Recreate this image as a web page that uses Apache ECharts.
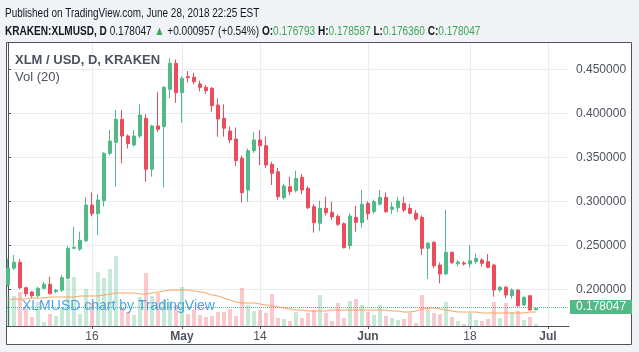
<!DOCTYPE html>
<html>
<head>
<meta charset="utf-8">
<script src="https://cdn.jsdelivr.net/npm/echarts@6/dist/echarts.min.js"></script>
<style>
html, body { margin: 0; padding: 0; background: #f1f3f6; }
#main { width: 639px; height: 352px; }
</style>
</head>
<body>
<div id="main"></div>
<script>
// daily candles, day 0 = 2018-04-02 ... day 88 = 2018-06-29
var opens = [0.2050, 0.2240, 0.2307, 0.2018, 0.1970, 0.1927, 0.2011, 0.2057, 0.1975, 0.1990,
	0.2125, 0.2466, 0.2458, 0.2552, 0.2958, 0.2859, 0.3007, 0.3545, 0.3670, 0.3932,
	0.3742, 0.3640, 0.3742, 0.3943, 0.3364, 0.3856, 0.3848, 0.4273, 0.4568, 0.4234,
	0.4416, 0.4410, 0.4333, 0.4295, 0.4284, 0.4094, 0.3943, 0.3799, 0.3708, 0.3489,
	0.3128, 0.3575, 0.3697, 0.3632, 0.3420, 0.3336, 0.3041, 0.3166, 0.3120, 0.3273,
	0.3148, 0.2939, 0.2750, 0.2920, 0.2875, 0.2830, 0.2745, 0.2496, 0.2818, 0.2757,
	0.2977, 0.2882, 0.2969, 0.3045, 0.2909, 0.2927, 0.2977, 0.2920, 0.2864, 0.2818,
	0.2466, 0.2534, 0.2276, 0.2174, 0.2420, 0.2290, 0.2300, 0.2288, 0.2314, 0.2333,
	0.2314, 0.2276, 0.1992, 0.2023, 0.1927, 0.1992, 0.1822, 0.1927, 0.176793];
var closes = [0.2240, 0.2307, 0.2018, 0.1950, 0.1927, 0.2011, 0.2057, 0.1950, 0.1990, 0.2132,
	0.2466, 0.2477, 0.2557, 0.2958, 0.2859, 0.3015, 0.3545, 0.3685, 0.3932, 0.3742,
	0.3655, 0.3742, 0.3981, 0.3364, 0.3856, 0.3818, 0.4295, 0.4568, 0.4234, 0.4398,
	0.4405, 0.4360, 0.4295, 0.4257, 0.4086, 0.3935, 0.3830, 0.3697, 0.3461, 0.3098,
	0.3575, 0.3697, 0.3632, 0.3412, 0.3318, 0.3052, 0.3174, 0.3109, 0.3261, 0.3128,
	0.2927, 0.2757, 0.2920, 0.2870, 0.2822, 0.2739, 0.2473, 0.2833, 0.2761, 0.2966,
	0.2859, 0.2995, 0.3045, 0.2882, 0.2935, 0.3003, 0.2901, 0.2864, 0.2799, 0.2466,
	0.2523, 0.2268, 0.2174, 0.2420, 0.2302, 0.2310, 0.2288, 0.2325, 0.2352, 0.2295,
	0.2250, 0.1992, 0.2023, 0.1935, 0.1992, 0.1814, 0.1909, 0.1765, 0.178047];
var lows = [0.2030, 0.2220, 0.2000, 0.1916, 0.1905, 0.1910, 0.2000, 0.1940, 0.1955, 0.1970,
	0.2110, 0.2455, 0.2437, 0.2540, 0.2830, 0.2617, 0.2939, 0.3520, 0.3166, 0.3432,
	0.3600, 0.3620, 0.3720, 0.3223, 0.3280, 0.3790, 0.3159, 0.4170, 0.4120, 0.3893,
	0.4350, 0.4330, 0.4250, 0.4220, 0.4018, 0.3734, 0.3734, 0.3660, 0.3400, 0.2989,
	0.2995, 0.3550, 0.3412, 0.3380, 0.3185, 0.3020, 0.3020, 0.3070, 0.3100, 0.3080,
	0.2910, 0.2643, 0.2663, 0.2840, 0.2790, 0.2720, 0.2465, 0.2455, 0.2655, 0.2700,
	0.2790, 0.2860, 0.2950, 0.2870, 0.2856, 0.2875, 0.2880, 0.2850, 0.2780, 0.2390,
	0.2117, 0.2240, 0.2068, 0.2160, 0.2290, 0.2260, 0.2270, 0.2250, 0.2290, 0.2260,
	0.2240, 0.1916, 0.1970, 0.1900, 0.1893, 0.1800, 0.1810, 0.1760, 0.176360];
var highs = [0.2350, 0.2390, 0.2344, 0.2030, 0.1980, 0.2028, 0.2086, 0.2143, 0.2005, 0.2163,
	0.2490, 0.2711, 0.2655, 0.3045, 0.3100, 0.3083, 0.3560, 0.3810, 0.4037, 0.4037,
	0.3760, 0.3810, 0.4102, 0.3990, 0.3870, 0.4245, 0.4310, 0.4625, 0.4610, 0.4420,
	0.4480, 0.4460, 0.4370, 0.4320, 0.4300, 0.4170, 0.4102, 0.3848, 0.3840, 0.3520,
	0.3600, 0.3784, 0.3810, 0.3734, 0.3450, 0.3380, 0.3200, 0.3280, 0.3348, 0.3310,
	0.3170, 0.2970, 0.3007, 0.3052, 0.2995, 0.2850, 0.2760, 0.2864, 0.2950, 0.3128,
	0.3000, 0.3020, 0.3128, 0.3100, 0.2990, 0.3052, 0.3052, 0.2970, 0.2900, 0.2840,
	0.2540, 0.2550, 0.2306, 0.2901, 0.2430, 0.2335, 0.2320, 0.2503, 0.2408, 0.2350,
	0.2401, 0.2290, 0.2040, 0.2040, 0.2010, 0.2000, 0.1920, 0.1930, 0.178587];
// volume (millions XLM) and its 20-day average
var volumes = [31, 30, 34, 18, 9, 24, 4, 12, 10, 18,
	46, 49, 12, 37, 23, 54, 48, 57, 70, 18,
	14, 11, 29, 53, 30, 33, 26, 25, 21, 39,
	12, 16, 11, 9, 10, 14, 14, 17, 10, 38,
	21, 15, 16, 13, 32, 8, 7, 5, 14, 8,
	13, 16, 31, 13, 5, 23, 8, 25, 27, 21,
	14, 11, 21, 10, 8, 6, 7, 13, 3, 31,
	18, 13, 12, 24, 9, 5, 2, 13, 6, 5,
	7, 24, 8, 23, 14, 15, 6, 9, 2];
var volumeMA = [26, 27, 27, 27, 28, 28, 28, 29, 29, 29,
	29, 29, 30, 30, 30, 30, 31, 32, 33, 33,
	33, 33, 32, 32, 33, 34, 35, 36, 36, 36,
	36, 35, 34, 33, 31, 30, 28, 26, 24, 23,
	23, 23, 22, 21, 20, 19, 18, 17, 16, 16,
	15, 15, 15, 15, 16, 16, 16, 16, 16, 16,
	16, 16, 16, 16, 15, 15, 14, 14, 15, 17,
	18, 18, 17, 16, 15, 14, 14, 14, 14, 13,
	13, 13, 13, 13, 13, 13, 13, 14, 14];
var lastPrice = 0.178047;
var tickDays = [14, 29, 42, 60, 77, 90];
var tickNames = ['16', 'May', '14', 'Jun', '18', 'Jul'];
var priceTicks = [0.20, 0.25, 0.30, 0.35, 0.40, 0.45];

var upColor = '#53b987';
var downColor = '#eb4d5c';
var textColor = '#4c525e';
var font = '"Liberation Sans", Arial';

var candleData = [];
var volData = [];
var maData = [];
for (var i = 0; i < opens.length; i++) {
	candleData.push([i, opens[i], closes[i], lows[i], highs[i]]);
	volData.push({
		value : [i, volumes[i]],
		itemStyle : {
			color : closes[i] >= opens[i] ? 'rgba(83,185,135,0.32)' : 'rgba(235,77,92,0.3)'
		}
	});
	maData.push([i, volumeMA[i]]);
}

var chart = echarts.init(document.getElementById('main'));

var option = {
	backgroundColor : '#f1f3f6',
	animation : false,
	title : [ {
		left : 15,
		top : 54,
		padding : 0,
		text : 'XLM / USD, D, KRAKEN',
		textStyle : {
			fontFamily : font,
			fontSize : 13,
			fontWeight : 'bold',
			color : textColor
		}
	}, {
		left : 15,
		top : 71,
		padding : 0,
		text : 'Vol (20)',
		textStyle : {
			fontFamily : font,
			fontSize : 13,
			fontWeight : 'normal',
			color : textColor
		}
	}, {
		left : 22,
		top : 299,
		padding : 0,
		text : 'XLMUSD chart by TradingView',
		z : 10,
		textStyle : {
			fontFamily : font,
			fontSize : 14,
			fontWeight : 'normal',
			color : 'rgba(41,152,222,0.85)'
		}
	} ],
	graphic : [ {
		type : 'rect',
		z : -10,
		shape : { x : 6.5, y : 42.5, width : 625, height : 302 },
		style : { fill : '#ffffff', stroke : '#50535e', lineWidth : 1 }
	}, {
		// header lines, squeezed to match the condensed TradingView font
		type : 'text',
		x : 5,
		y : 7,
		scaleX : 0.765,
		style : {
			text : 'Published on TradingView.com, June 28, 2018 22:25 EST',
			font : '13px ' + font,
			fill : '#131722'
		}
	}, {
		type : 'text',
		x : 5,
		y : 25,
		scaleX : 0.775,
		style : {
			text : '{b|KRAKEN:XLMUSD, D} {n|0.178047} {g|▲} {n|+0.000957 (+0.54%)} {b|O:}{g|0.176793} {b|H:}{g|0.178587} {b|L:}{g|0.176360} {b|C:}{g|0.178047}',
			font : '13px ' + font,
			fill : '#131722',
			rich : {
				b : { fontFamily : font, fontSize : 13, fontWeight : 'bold', fill : '#131722' },
				n : { fontFamily : font, fontSize : 13, fill : '#131722' },
				g : { fontFamily : font, fontSize : 13, fill : '#3aa757' }
			}
		}
	} ],
	grid : [ {
		left : 7,
		top : 43,
		width : 562,
		height : 283
	}, {
		left : 7,
		top : 226,
		width : 562,
		height : 100
	} ],
	xAxis : [ {
		type : 'value',
		gridIndex : 0,
		min : -1 / 6,
		max : 93.5,
		axisLine : {
			show : true,
			onZero : false,
			lineStyle : { color : '#50535e' }
		},
		axisTick : {
			show : true,
			length : 3,
			customValues : tickDays,
			lineStyle : { color : '#50535e' }
		},
		axisLabel : {
			customValues : tickDays,
			margin : 5,
			fontFamily : font,
			fontSize : 12,
			color : textColor,
			formatter : function(v) {
				var name = tickNames[tickDays.indexOf(Math.round(v))];
				return /^[A-Z]/.test(name) ? '{m|' + name + '}' : name;
			},
			rich : {
				m : { fontWeight : 'bold', fontSize : 12, fontFamily : font, color : textColor }
			}
		},
		splitLine : {
			show : true,
			lineStyle : { color : '#e8edf2' }
		}
	}, {
		type : 'value',
		gridIndex : 1,
		min : -1 / 6,
		max : 93.5,
		show : false
	} ],
	yAxis : [ {
		type : 'value',
		gridIndex : 0,
		position : 'right',
		min : 0.1583,
		max : 0.4799,
		axisLine : {
			show : true,
			lineStyle : { color : '#50535e' }
		},
		axisTick : {
			show : true,
			length : 3,
			customValues : priceTicks,
			lineStyle : { color : '#50535e' }
		},
		axisLabel : {
			customValues : priceTicks,
			margin : 7,
			fontFamily : font,
			fontSize : 12,
			color : textColor,
			formatter : function(v) {
				return v.toFixed(6);
			}
		},
		splitLine : {
			show : true,
			lineStyle : { color : '#e8edf2' }
		}
	}, {
		type : 'value',
		gridIndex : 1,
		min : 0,
		max : 100,
		show : false
	} ],
	series : [ {
		name : 'Volume',
		type : 'bar',
		xAxisIndex : 1,
		yAxisIndex : 1,
		barWidth : 4,
		z : 1,
		data : volData
	}, {
		name : 'Vol MA',
		type : 'line',
		xAxisIndex : 1,
		yAxisIndex : 1,
		symbol : 'none',
		z : 2,
		lineStyle : { color : 'rgba(247,150,70,0.85)', width : 1 },
		data : maData
	}, {
		name : 'XLMUSD',
		type : 'candlestick',
		xAxisIndex : 0,
		yAxisIndex : 0,
		barWidth : 3,
		z : 3,
		encode : { x : 0, y : [ 1, 2, 3, 4 ] },
		itemStyle : {
			color : upColor,
			color0 : downColor,
			borderColor : upColor,
			borderColor0 : downColor,
			borderWidth : 1
		},
		data : candleData,
		markLine : {
			silent : true,
			symbol : [ 'none', 'none' ],
			lineStyle : { type : 'dotted', color : upColor, width : 1 },
			label : {
				show : true,
				position : 'end',
				distance : 1,
				formatter : function() {
					return lastPrice.toFixed(6);
				},
				color : '#ffffff',
				fontFamily : font,
				fontSize : 12,
				backgroundColor : upColor,
				padding : [ 1, 6, 1, 6 ]
			},
			data : [ { yAxis : lastPrice } ]
		}
	} ]
};

chart.setOption(option);
</script>
</body>
</html>
